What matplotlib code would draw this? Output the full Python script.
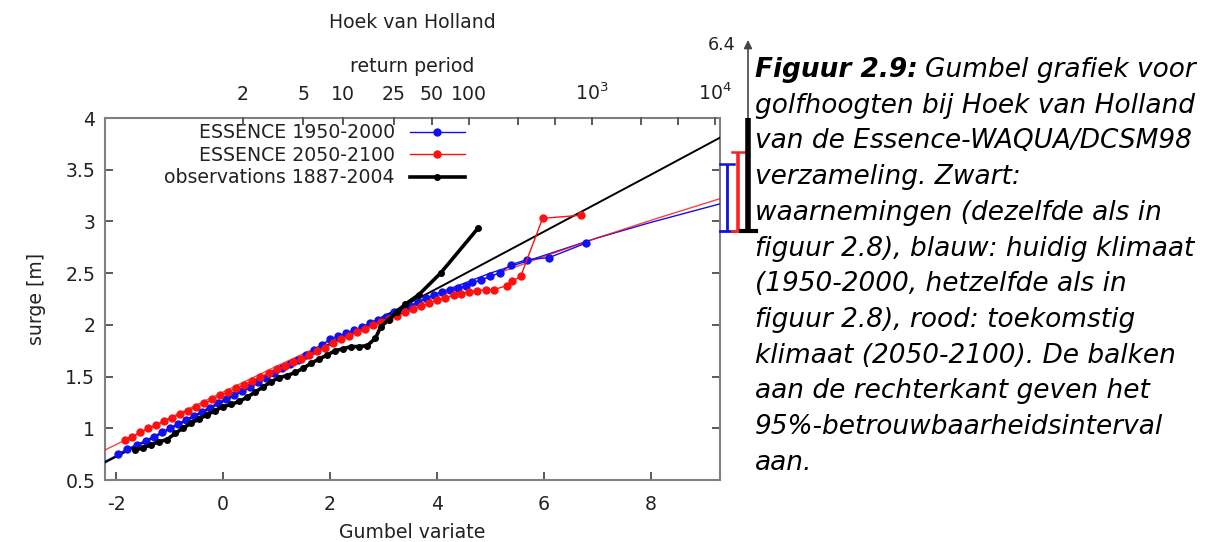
import matplotlib
matplotlib.use("Agg")
import numpy as np
import matplotlib.pyplot as plt

plt.rcParams['mathtext.default'] = 'regular'
plt.rcParams['font.family'] = ['DejaVu Sans']
plt.rcParams['axes.unicode_minus'] = False

# ---------------- data ----------------
blue_x = [-1.97, -1.80, -1.62, -1.45, -1.30, -1.15, -1.00, -0.85, -0.70, -0.55,
          -0.40, -0.25, -0.10, 0.05, 0.20, 0.35, 0.50, 0.65, 0.80, 0.95,
          1.10, 1.25, 1.40, 1.55, 1.70, 1.85, 2.00, 2.15, 2.30, 2.45,
          2.60, 2.75, 2.90, 3.05, 3.20, 3.35, 3.50, 3.65, 3.80, 3.95,
          4.10, 4.25, 4.40, 4.54, 4.66, 4.83, 5.00, 5.18, 5.38, 5.68,
          6.10, 6.79]
blue_y = [0.75, 0.80, 0.84, 0.88, 0.92, 0.96, 1.00, 1.04, 1.08, 1.12,
          1.16, 1.20, 1.24, 1.28, 1.32, 1.36, 1.40, 1.45, 1.49, 1.53,
          1.58, 1.62, 1.66, 1.71, 1.76, 1.81, 1.86, 1.89, 1.92, 1.95,
          1.98, 2.02, 2.05, 2.08, 2.12, 2.15, 2.18, 2.22, 2.26, 2.29,
          2.32, 2.34, 2.36, 2.38, 2.41, 2.43, 2.47, 2.50, 2.58, 2.63,
          2.65, 2.79]

red_x = [-1.84, -1.70, -1.55, -1.40, -1.25, -1.10, -0.95, -0.80, -0.65, -0.50,
         -0.35, -0.20, -0.05, 0.10, 0.25, 0.40, 0.55, 0.70, 0.85, 1.00,
         1.15, 1.30, 1.45, 1.60, 1.75, 1.90, 2.05, 2.20, 2.35, 2.50,
         2.65, 2.80, 2.95, 3.10, 3.25, 3.40, 3.55, 3.70, 3.85, 4.00,
         4.15, 4.32, 4.45, 4.60, 4.76, 4.92, 5.07, 5.31, 5.41, 5.57,
         5.98, 6.70]
red_y = [0.89, 0.92, 0.96, 1.00, 1.03, 1.07, 1.10, 1.14, 1.17, 1.21,
         1.24, 1.28, 1.32, 1.35, 1.39, 1.42, 1.46, 1.50, 1.53, 1.57,
         1.60, 1.64, 1.67, 1.71, 1.75, 1.78, 1.82, 1.86, 1.89, 1.93,
         1.96, 2.00, 2.03, 2.06, 2.09, 2.12, 2.15, 2.18, 2.21, 2.24,
         2.26, 2.29, 2.30, 2.32, 2.33, 2.34, 2.34, 2.38, 2.42, 2.47,
         3.03, 3.06]

obs_x = [-1.65, -1.50, -1.35, -1.20, -1.05, -0.90, -0.75, -0.60, -0.45, -0.30,
         -0.15, 0.00, 0.15, 0.30, 0.45, 0.60, 0.75, 0.90, 1.05, 1.20,
         1.35, 1.50, 1.65, 1.80, 1.95, 2.10, 2.25, 2.40, 2.55, 2.70,
         2.85, 2.95, 3.10, 3.25, 3.41, 3.66, 4.07, 4.78]
obs_y = [0.79, 0.81, 0.84, 0.87, 0.89, 0.95, 1.00, 1.05, 1.09, 1.13,
         1.17, 1.21, 1.23, 1.26, 1.30, 1.35, 1.40, 1.45, 1.49, 1.51,
         1.54, 1.58, 1.63, 1.67, 1.71, 1.75, 1.77, 1.79, 1.79, 1.80,
         1.87, 1.98, 2.05, 2.12, 2.20, 2.29, 2.50, 2.94]

fit_x = [-2.21, -1.0, 0.0, 1.0, 2.0, 3.0, 4.0, 5.0, 6.0, 7.0, 8.0, 9.30]
fit_blue = [0.68, 1.00, 1.27, 1.55, 1.82, 2.07, 2.30, 2.50, 2.67, 2.84, 2.99, 3.17]
fit_red = [0.79, 1.10, 1.35, 1.60, 1.84, 2.06, 2.27, 2.47, 2.66, 2.84, 3.01, 3.22]
fit_obs_x = [-2.21, 0.0, 2.0, 4.0, 6.0, 8.0, 9.30]
fit_obs = [0.67, 1.26, 1.81, 2.35, 2.90, 3.45, 3.81]

return_periods = [2, 5, 10, 25, 50, 100, 250, 500, 1000, 2500, 5000, 10000]
return_labels = ['2', '5', '10', '25', '50', '100', '', '', '$10^3$', '', '', '$10^4$']

ci_low = [2.905, 2.905, 2.905]
ci_high = [3.555, 3.67, 6.4]
ci_colors = ['#1010e0', '#ff2020', 'black']

series_labels = ['ESSENCE 1950-2000', 'ESSENCE 2050-2100', 'observations 1887-2004']

# ---------------- figure ----------------
W, H = 1220, 542
fig = plt.figure(figsize=(W / 100, H / 100), dpi=100)

def fx(px):
    return px / W

def fy(py):
    return 1 - py / H

ax_l, ax_r, ax_t, ax_b = 105, 720, 118, 480
ax = fig.add_axes([fx(ax_l), fy(ax_b), (ax_r - ax_l) / W, (ax_b - ax_t) / H])

FS = 13.6
SPINE = '#808080'
TICK = '#5a5a5a'
TXT = '#222222'
BLUE = '#1010f0'
RED = '#ff1010'

ax.plot(fit_x, fit_blue, color=BLUE, lw=1.0, zorder=3)
ax.plot(fit_x, fit_red, color=RED, lw=1.0, alpha=0.8, zorder=3)
ax.plot(fit_obs_x, fit_obs, color='black', lw=1.4, zorder=3)

ax.plot(blue_x, blue_y, color=BLUE, lw=1.0, marker='o', ms=5, zorder=4,
        label=series_labels[0])
ax.plot(red_x, red_y, color=RED, lw=1.0, marker='o', ms=5, zorder=5,
        label=series_labels[1])
ax.plot(obs_x, obs_y, color='black', lw=2.6, marker='o', ms=4, zorder=6,
        label=series_labels[2])

xmin, xmax = -2.21, 9.30
ax.set_xlim(xmin, xmax)
ax.set_ylim(0.5, 4.0)
ax.set_xticks([-2, 0, 2, 4, 6, 8])
ax.set_yticks([0.5, 1, 1.5, 2, 2.5, 3, 3.5, 4])
ax.set_yticklabels(['0.5', '1', '1.5', '2', '2.5', '3', '3.5', '4'])
ax.tick_params(axis='both', direction='in', length=6, width=1.4, color=TICK,
               labelsize=FS, labelcolor=TXT)
ax.tick_params(axis='x', pad=11, top=False)
ax.tick_params(axis='y', pad=7, right=True)
for s in ax.spines.values():
    s.set_color(SPINE)
    s.set_linewidth(1.5)

# top return-period axis: labels via twin axis, tick marks drawn on the top edge
gum = [-np.log(-np.log(1 - 1 / T)) for T in return_periods]
top = ax.twiny()
top.set_xlim(xmin, xmax)
top.set_xticks(gum)
top.set_xticklabels(return_labels)
top.tick_params(axis='x', length=0, labelsize=FS, labelcolor=TXT, pad=10)
for s in top.spines.values():
    s.set_visible(False)
tick_len = 6 / (ax_b - ax_t)
for g in gum:
    ax.plot([g, g], [1.0, 1.0 - tick_len], color=TICK, lw=1.4,
            transform=ax.get_xaxis_transform(), clip_on=False, zorder=8)

leg = ax.legend(loc='upper right', bbox_to_anchor=(0.585, 0.985),
                frameon=False, markerfirst=False, fontsize=FS,
                handlelength=2.9, handletextpad=0.8, labelspacing=0.18,
                borderpad=0, borderaxespad=0)
for t in leg.get_texts():
    t.set_color(TXT)

ax.set_xlabel('Gumbel variate', fontsize=FS, color=TXT, labelpad=6)
ax.set_ylabel('surge [m]', fontsize=FS, color=TXT, labelpad=14)
fig.text(fx(412.5), fy(66), 'return period', ha='center', va='center',
         fontsize=FS, color=TXT)
fig.text(fx(412.5), fy(22), 'Hoek van Holland', ha='center', va='center',
         fontsize=FS, color=TXT)

# confidence bars to the right of the plot
dpx = (xmax - xmin) / (ax_r - ax_l)
bar_px = [727, 737.5, 748]
bar_lw = [2.0, 2.6, 4.0]
cap_half = [7, 6, 7.5]
for i in range(3):
    xb = xmin + (bar_px[i] - ax_l) * dpx
    topv = min(ci_high[i], 4.0)
    ax.plot([xb, xb], [ci_low[i], topv], color=ci_colors[i], lw=bar_lw[i],
            clip_on=False, solid_capstyle='butt', zorder=7)
    hw = cap_half[i] * dpx
    ax.plot([xb - hw, xb + hw], [ci_low[i], ci_low[i]], color=ci_colors[i],
            lw=2.0 if i < 2 else 3.0, clip_on=False, zorder=7)
    if ci_high[i] <= 4.0:
        ax.plot([xb - hw, xb + hw], [ci_high[i], ci_high[i]], color=ci_colors[i],
                lw=1.8, clip_on=False, zorder=7)
    else:
        ytop = 4.0 + (ax_t - 40) / ((ax_b - ax_t) / 3.5)
        ax.annotate('', xy=(xb, ytop), xytext=(xb, 4.0),
                    xycoords='data', textcoords='data', annotation_clip=False,
                    arrowprops=dict(arrowstyle='-|>', color='#444444', lw=1.2,
                                    mutation_scale=12, shrinkA=0, shrinkB=0))
        fig.text(fx(722), fy(45), '%.1f' % ci_high[i], ha='center', va='center',
                 fontsize=FS - 1, color=TXT)

# caption
CFS = 19
cap_x = fx(755)
base0, step = 77, 35.7
lines = [
    None,
    'golfhoogten bij Hoek van Holland',
    'van de Essence-WAQUA/DCSM98',
    'verzameling. Zwart:',
    'waarnemingen (dezelfde als in',
    'figuur 2.8), blauw: huidig klimaat',
    '(1950-2000, hetzelfde als in',
    'figuur 2.8), rood: toekomstig',
    'klimaat (2050-2100). De balken',
    'aan de rechterkant geven het',
    '95%-betrouwbaarheidsinterval',
    'aan.',
]
tb = fig.text(cap_x, fy(base0), 'Figuur 2.9:', fontsize=CFS, fontweight='bold',
              fontstyle='italic', va='baseline', ha='left', color='black')
r = fig.canvas.get_renderer()
bb = tb.get_window_extent(renderer=r)
fig.text(bb.x1 / W + 0.006, fy(base0), 'Gumbel grafiek voor', fontsize=CFS,
         fontstyle='italic', va='baseline', ha='left', color='black')
for i, s in enumerate(lines):
    if s is None:
        continue
    fig.text(cap_x, fy(base0 + step * i), s, fontsize=CFS, fontstyle='italic',
             va='baseline', ha='left', color='black')

fig.savefig('out.png', dpi=100)
